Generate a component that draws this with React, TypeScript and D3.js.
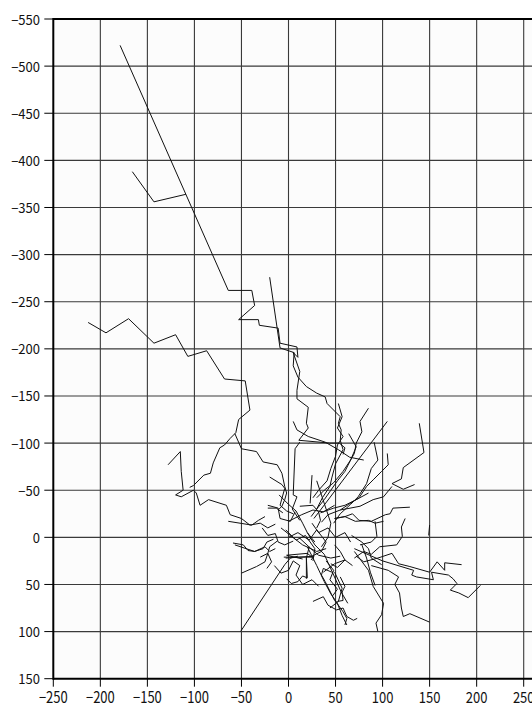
import React from 'react';
import * as d3 from 'd3';

const xTicks = [-250, -200, -150, -100, -50, 0, 50, 100, 150, 200, 250];
const yTicks = [-550, -500, -450, -400, -350, -300, -250, -200, -150, -100, -50, 0, 50, 100, 150];

type P = [number, number];

const tracks: P[][] = [
  [[-179,-522],[-64,-262],[-39,-262],[-36,-246],[-53,-231],[-32,-231],[-31,-225],[-11,-222],[-9,-206],[9,-202],[10,-191],[5,-196],[12,-176],[9,-156],[9,-147],[21,-138],[19,-121],[21,-116],[11,-103],[44,-100],[54,-100],[60,-95],[58,-88]],
  [[-166,-388],[-143,-356],[-109,-364]],
  [[-213,-228],[-194,-217],[-170,-232],[-143,-206],[-120,-215],[-107,-192],[-87,-198],[-68,-168],[-46,-166],[-41,-135],[-53,-125],[-56,-111],[-62,-105],[-68,-98],[-73,-95],[-80,-79],[-83,-68],[-90,-66],[-101,-55],[-105,-53]],
  [[-128,-77],[-115,-91],[-114,-70],[-112,-50],[-120,-45],[-114,-43],[-101,-50],[-98,-47],[-94,-34],[-85,-40],[-66,-34],[-62,-24],[-50,-20],[-41,-13],[-30,-15],[-22,-10],[-14,-14]],
  [[-20,-276],[-9,-201],[6,-196],[5,-182],[10,-170],[19,-160],[30,-153],[39,-149],[41,-142],[55,-128],[53,-121],[56,-114],[55,-103],[58,-93],[50,-78],[46,-63],[44,-54],[36,-42],[30,-30],[24,-22]],
  [[5,-123],[9,-114],[21,-107],[39,-101],[53,-93],[65,-85],[80,-82]],
  [[12,-101],[7,-94],[5,-45],[9,-43],[4,-30],[12,-18]],
  [[25,-66],[23,-36]],
  [[139,-121],[144,-90],[122,-74],[120,-62],[110,-57],[122,-51],[134,-56]],
  [[105,-89],[106,-77],[99,-70],[90,-61],[83,-54],[75,-42],[64,-35],[55,-29],[42,-24],[35,-16]],
  [[105,-123],[34,-29],[27,-20]],
  [[85,-137],[76,-123],[78,-112],[72,-100],[70,-89],[66,-82],[60,-70],[52,-60],[45,-50],[38,-40],[30,-30]],
  [[53,-142],[57,-128],[52,-116],[58,-107],[52,-98],[50,-86],[45,-73],[41,-60],[32,-50],[26,-42]],
  [[64,-110],[72,-96],[66,-82],[58,-70],[48,-58],[38,-50],[30,-42]],
  [[91,-101],[95,-82],[88,-73],[83,-57],[74,-43],[66,-35],[55,-25],[48,-15]],
  [[129,-32],[111,-31],[108,-25],[103,-24],[88,-17],[75,-18],[68,-25],[60,-22],[49,-20]],
  [[124,-20],[120,-11],[121,-1],[115,8],[97,10],[88,18],[80,15],[70,22]],
  [[92,-17],[94,-1],[88,5],[76,8]],
  [[72,20],[80,26],[95,22],[110,17],[117,28],[129,31],[150,37],[158,26],[166,35],[166,27],[184,29]],
  [[70,12],[100,25],[133,35],[131,40],[136,42],[154,45],[152,37],[170,40],[175,44],[179,49],[172,56],[181,59],[191,64],[204,51]],
  [[150,-13],[149,-2]],
  [[70,15],[85,35],[90,52],[101,70],[99,82],[93,91],[95,100]],
  [[88,30],[106,35],[117,42],[113,50],[118,59],[120,75],[122,84],[129,81],[150,90]],
  [[-51,100],[-4,29],[2,22],[10,20]],
  [[-5,21],[25,21],[20,17],[-2,19],[15,23]],
  [[-3,22],[27,20],[24,24]],
  [[-57,8],[-36,15],[-25,10],[-20,15],[-14,12]],
  [[-50,38],[-34,31],[-25,26],[-22,17],[-20,10],[-12,4]],
  [[-59,6],[-48,8],[-43,14],[-36,15],[-27,12],[-23,5],[-16,2]],
  [[-64,-17],[-39,-13],[-32,-18],[-25,-22]],
  [[-20,-64],[-7,-56],[-4,-52],[-9,-34],[-2,-28],[5,-25]],
  [[-22,-31],[-13,-31],[-6,-26]],
  [[46,37],[37,33],[35,40],[39,47],[49,67],[53,72],[58,79],[62,86],[60,93]],
  [[26,68],[37,63],[42,72],[51,77],[58,75],[62,84],[69,88],[73,86]],
  [[55,42],[60,52],[57,58],[58,67],[52,68]],
  [[-2,44],[3,49],[10,47],[15,41],[20,43],[19,22]],
  [[49,8],[55,15],[60,24],[52,32],[45,28]],
  [[-57,-110],[-50,-94],[-34,-91],[-27,-80],[-12,-77],[-7,-68],[-4,-54],[-2,-47],[-4,-40],[-7,-33],[-11,-29]],
  [[20,10],[30,30],[38,47],[45,60],[52,70],[57,83],[62,93]],
  [[-22,-34],[-11,-31],[-9,-20],[2,-17],[7,-27]],
  [[0,-17],[14,-24],[26,-29],[37,-27],[49,-34]],
  [[12,-33],[26,-34],[32,-27],[34,-18],[30,-10]],
  [[34,-26],[48,-31],[60,-34],[74,-41],[85,-47]],
  [[55,-29],[76,-33],[90,-40],[101,-43],[110,-54]],
  [[67,-2],[78,5],[85,12],[88,22],[99,29]],
  [[78,8],[83,22],[87,37],[92,51]],
  [[49,-20],[60,-22],[71,-17],[85,-18],[92,-15],[101,-17]],
  [[0,0],[10,-5],[22,3],[30,-8],[40,5],[35,15],[25,20]],
  [[22,10],[19,22],[19,44]],
  [[-28,-10],[-22,-2],[-14,-4],[-11,5],[-4,8],[5,4]],
  [[-30,21],[-22,17],[-18,26],[-23,33]],
  [[12,1],[26,14],[32,19],[45,22],[55,20]],
  [[37,37],[49,28],[60,24],[68,30]],
  [[49,37],[57,54],[53,68],[44,75]],
  [[20,-5],[28,8],[38,18],[48,40],[56,58],[63,70]],
  [[-8,-10],[2,-2],[15,8],[30,15],[40,12]],
  [[-10,-45],[0,-35],[8,-28],[15,-15],[20,-5],[28,5]],
  [[30,-60],[35,-45],[40,-30],[45,-15],[42,0],[35,10]],
  [[5,25],[12,30],[8,40],[15,50],[25,45],[32,52]],
  [[-15,30],[-8,38],[0,35],[5,25]],
  [[40,25],[48,35],[44,45],[52,55],[47,62]],
  [[25,-15],[32,-5],[42,-10],[50,0],[60,-5],[66,5]],
  [[-3,-8],[8,3],[18,-2],[28,12],[26,25]],
];

export default function App() {
  const W = 532;
  const H = 708;
  const x = d3.scaleLinear().domain([-250, 250]).range([53.3, 523.7]);
  const y = d3.scaleLinear().domain([-550, 150]).range([19, 678.7]);
  const line = d3.line<P>().x(d => x(d[0])).y(d => y(d[1]));
  const fmt = (v: number) => (v < 0 ? '\u2212' + Math.abs(v) : String(v));
  const x0 = x(-250);
  const y0 = y(-550);
  const y1 = y(150);
  const font = "'Noto Sans CJK JP', 'Noto Sans', sans-serif";

  return (
    <svg width={W} height={H} style={{ position: 'absolute', left: 0, top: 0, background: '#fff' }}>
      <rect x={x0} y={y0} width={W - x0 + 10} height={y1 - y0} fill="#fcfcfc" />
      <g stroke="#3a3a3a" strokeWidth={1.1}>
        {xTicks.slice(1).map(t => (
          <line key={'gx' + t} x1={x(t)} x2={x(t)} y1={y0} y2={y1} />
        ))}
        {yTicks.slice(1, -1).map(t => (
          <line key={'gy' + t} x1={x0} x2={W + 5} y1={y(t)} y2={y(t)} />
        ))}
      </g>
      <g fill="none" stroke="#111" strokeWidth={1} strokeLinejoin="round">
        {tracks.map((tr, i) => (
          <path key={'t' + i} d={line(tr) || ''} />
        ))}
      </g>
      <g stroke="#000" strokeWidth={2}>
        <line x1={x0} x2={W + 5} y1={y0} y2={y0} />
        <line x1={x0} x2={W + 5} y1={y1} y2={y1} />
        <line x1={x0} x2={x0} y1={y0 - 1} y2={y1 + 1} />
      </g>
      <g stroke="#000" strokeWidth={1}>
        {yTicks.map(t => (
          <line key={'ty' + t} x1={x0 - 9} x2={x0} y1={y(t)} y2={y(t)} />
        ))}
        {xTicks.map(t => (
          <line key={'tx' + t} x1={x(t)} x2={x(t)} y1={y1} y2={y1 + 8} />
        ))}
      </g>
      <g fontFamily={font} fontSize={13} fill="#111">
        {yTicks.map(t => (
          <text key={'ly' + t} x={40} y={y(t)} textAnchor="end" dominantBaseline="central">
            {fmt(t)}
          </text>
        ))}
        {xTicks.map(t => (
          <text key={'lx' + t} transform={`translate(${x(t)},${695.5}) scale(1,1.2)`} textAnchor="middle" dominantBaseline="central">
            {fmt(t)}
          </text>
        ))}
      </g>
    </svg>
  );
}
